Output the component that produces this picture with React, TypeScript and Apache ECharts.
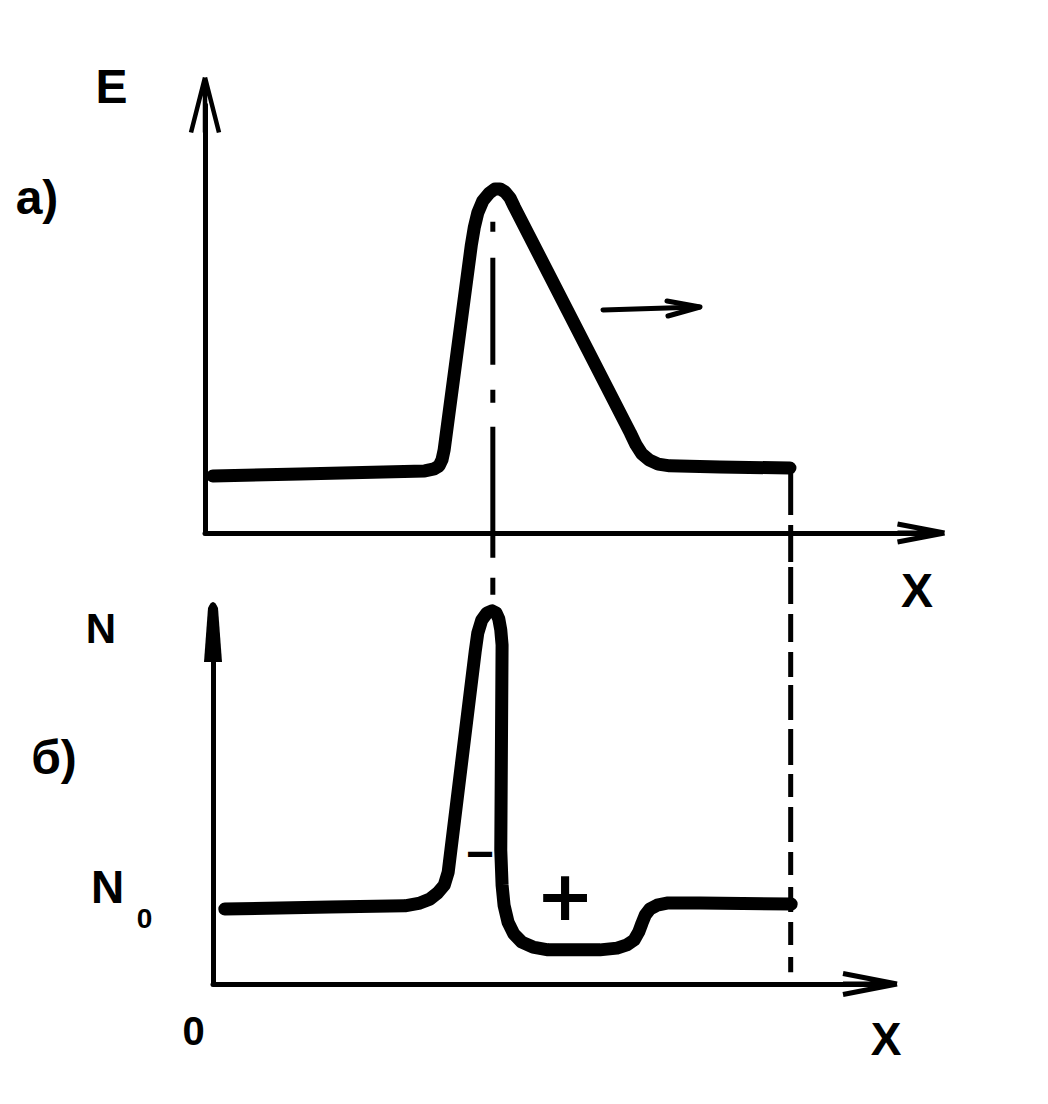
import React, { useEffect, useRef } from "react";
import * as echarts from "echarts";

// ---- panel а): E(X) pulse (x, y in % of each axis length)
const eX = [1.1, 13.3, 30.7, 32.0, 32.7, 33.1, 33.4, 37.2, 37.6, 38.1, 38.8, 39.7, 40.5, 41.2, 41.9, 42.6, 43.2, 59.4, 60.2, 61.0, 62.0, 63.3, 64.9, 71.9, 81.7];
const eY = [13.3, 13.8, 14.5, 15.0, 15.7, 17.1, 19.4, 67.3, 71.3, 74.8, 77.6, 79.4, 80.4, 80.4, 79.7, 78.3, 76.2, 23.4, 20.6, 18.5, 17.1, 16.1, 15.7, 15.4, 15.2];

// ---- panel б): N(X) carrier density
const nX = [1.8, 17.8, 29.2, 31.5, 33.0, 34.2, 35.2, 35.8, 39.9, 40.3, 40.9, 41.7, 42.5, 43.1, 43.5, 43.8, 44.0, 43.8, 44.0, 44.3, 44.9, 45.8, 47.0, 48.7, 51.0, 58.9, 61.5, 63.0, 64.1, 64.8, 65.3, 65.8, 66.5, 67.6, 69.1, 74.1, 88.0];
const nY = [21.3, 21.9, 22.2, 23.0, 24.1, 25.9, 28.1, 31.8, 94.3, 99.7, 103.4, 105.4, 106.0, 105.4, 103.7, 100.6, 96.3, 38.1, 28.1, 22.4, 17.6, 14.2, 11.9, 10.5, 9.7, 9.7, 10.2, 11.1, 12.5, 14.8, 17.3, 19.6, 21.3, 22.4, 23.0, 23.0, 22.7];

// ---- guide lines (in panel а) coordinates)
const peakLineX = [40.2, 40.2];
const peakLineY = [72.7, -14.5];
const edgeLineX = [81.8, 81.8];
const edgeLineY = [15.2, -102.6];

const zip = (a: number[], b: number[]) => a.map((v, i) => [v, b[i]]);

function area(p: number[][]) {
  let s = 0;
  for (let i = 0; i < p.length; i++) {
    const a = p[i], b = p[(i + 1) % p.length];
    s += a[0] * b[1] - b[0] * a[1];
  }
  return s;
}

function chevronSymbol(halfW: number, len: number, t: number) {
  const cx = halfW + t;
  const arm = (ex: number) => {
    const dx = ex - cx, dy = len;
    const L = Math.hypot(dx, dy);
    const nx = (-dy / L) * (t / 2), ny = (dx / L) * (t / 2);
    return [[cx + nx, ny], [ex + nx, len + ny], [ex - nx, len - ny], [cx - nx, -ny]];
  };
  const polys = [arm(cx - halfW), arm(cx + halfW), [[cx - t / 2, 0], [cx + t / 2, 0], [cx + t / 2, len], [cx - t / 2, len]]]
    .map((p) => (area(p) < 0 ? p.slice().reverse() : p));
  let minX = Infinity, minY = Infinity, maxX = -Infinity, maxY = -Infinity;
  polys.forEach((p) => p.forEach(([x, y]) => {
    minX = Math.min(minX, x); minY = Math.min(minY, y);
    maxX = Math.max(maxX, x); maxY = Math.max(maxY, y);
  }));
  const d = polys
    .map((p) => "M" + p.map(([x, y]) => `${(x - minX).toFixed(2)} ${(y - minY).toFixed(2)}`).join(" L") + " Z")
    .join(" ");
  return { path: "path://" + d, size: [maxX - minX, maxY - minY] };
}

const topYArrow = chevronSymbol(14, 55, 4.5);
const topXArrow = chevronSymbol(9, 47, 5);
const botXArrow = chevronSymbol(10.5, 54, 5);
const botYArrow = { path: "path://M4 6 Q9 -6 14 6 L18 60 L0 60 Z", size: [18, 60] };

const axisCommon = (sym: { path: string; size: number[] }) => ({
  type: "value" as const,
  min: 0,
  max: 100,
  axisLine: {
    show: true,
    onZero: false,
    symbol: ["none", sym.path],
    symbolSize: sym.size,
    lineStyle: { color: "#000", width: 5 },
  },
  axisTick: { show: false },
  axisLabel: { show: false },
  splitLine: { show: false },
});

const FONT = "'Liberation Sans', Arial, sans-serif";
const label = (text: string, x: number, y: number, size: number, family = FONT) => ({
  type: "text",
  x,
  y,
  silent: true,
  style: {
    text,
    fill: "#000",
    fontSize: size,
    fontWeight: "bold",
    fontFamily: family,
    align: "center",
    verticalAlign: "middle",
    textAlign: "center",
    textVerticalAlign: "middle",
  },
});

export default function App() {
  const ref = useRef<HTMLDivElement>(null);
  useEffect(() => {
    if (!ref.current) return;
    const chart = echarts.init(ref.current, undefined, { renderer: "svg" });
    const curveStyle = { color: "#000", width: 13, cap: "round", join: "round" };
    chart.setOption({
      animation: false,
      backgroundColor: "#fff",
      grid: [
        { left: 205, top: 105, width: 716, height: 428, outerBoundsMode: "none" },
        { left: 213, top: 632, width: 657, height: 352, outerBoundsMode: "none" },
      ],
      xAxis: [
        { ...axisCommon(topXArrow), gridIndex: 0 },
        { ...axisCommon(botXArrow), gridIndex: 1 },
      ],
      yAxis: [
        { ...axisCommon(topYArrow), gridIndex: 0 },
        { ...axisCommon(botYArrow), gridIndex: 1 },
      ],
      series: [
        {
          type: "line", xAxisIndex: 0, yAxisIndex: 0, data: zip(eX, eY),
          showSymbol: false, symbol: "none", smooth: false, clip: false, silent: true,
          lineStyle: curveStyle, z: 3,
        },
        {
          type: "line", xAxisIndex: 1, yAxisIndex: 1, data: zip(nX, nY),
          showSymbol: false, symbol: "none", smooth: false, clip: false, silent: true,
          lineStyle: curveStyle, z: 3,
        },
        {
          type: "line", xAxisIndex: 0, yAxisIndex: 0, data: zip(peakLineX, peakLineY),
          showSymbol: false, symbol: "none", clip: false, silent: true,
          lineStyle: { color: "#000", width: 5, cap: "butt", type: [10, 26, 107, 25, 13, 24, 131, 20, 17, 200] },
          z: 2,
        },
        {
          type: "line", xAxisIndex: 0, yAxisIndex: 0, data: zip(edgeLineX, edgeLineY),
          showSymbol: false, symbol: "none", clip: false, silent: true,
          lineStyle: {
            color: "#000", width: 5, cap: "butt",
            type: [47, 10, 37, 5, 37, 10, 28, 10, 25, 8, 35, 9, 36, 9, 23, 10, 35, 10, 23, 12, 25, 10, 23, 12, 17, 200],
          },
          z: 2,
        },
      ],
      graphic: [
        label("E", 111.5, 86, 48),
        label("а)", 37, 197, 48),
        label("X", 917, 590, 48),
        label("N", 101, 628, 42),
        label("б)", 54, 757, 48),
        label("N", 107.5, 887, 46),
        label("0", 144.5, 918, 28),
        label("0", 193.5, 1031, 40),
        label("X", 886, 1039, 46),
        label("+", 565, 896, 70, "'DejaVu Sans', sans-serif"),
        label("−", 480, 853, 48),
        {
          type: "line", silent: true,
          shape: { x1: 603, y1: 310, x2: 699, y2: 307 },
          style: { stroke: "#000", lineWidth: 5, lineCap: "round" },
        },
        {
          type: "polyline", silent: true,
          shape: { points: [[667, 301], [700, 307], [668, 316]] },
          style: { stroke: "#000", lineWidth: 5, fill: null, lineCap: "round", lineJoin: "round" },
        },
      ],
    });
    return () => chart.dispose();
  }, []);
  return (
    <div
      ref={ref}
      style={{ position: "absolute", left: 0, top: 0, width: 1048, height: 1104, background: "#fff" }}
    />
  );
}
